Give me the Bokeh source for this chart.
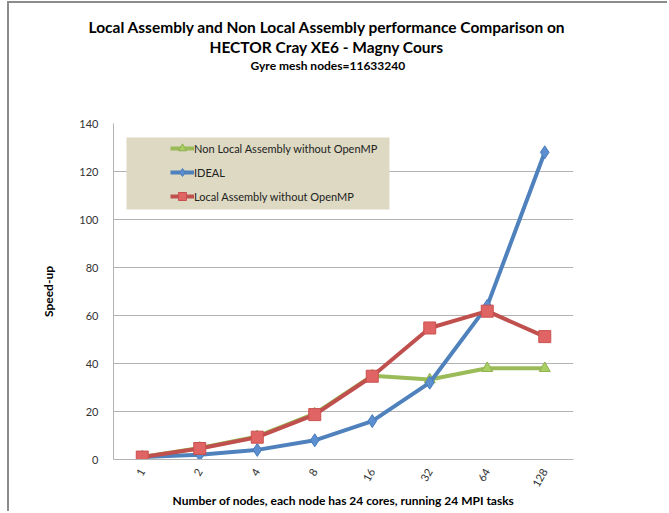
import math
from bokeh.plotting import figure
from bokeh.models import BoxAnnotation, Legend, LegendItem, Title
from bokeh.embed import file_html
from bokeh.resources import INLINE

nodes = ["1", "2", "4", "8", "16", "32", "64", "128"]
ideal = [1, 2, 4, 8, 16, 32, 64, 128]
local_asm = [1.0, 4.6, 9.3, 18.7, 34.7, 54.8, 61.8, 51.2]
nonlocal_asm = [1.0, 4.8, 9.6, 19.1, 34.9, 33.3, 38.0, 38.0]
y_ticks = [0, 20, 40, 60, 80, 100, 120, 140]

title_lines = ["Local Assembly and Non Local Assembly performance Comparison on",
               "HECTOR Cray XE6 - Magny Cours"]
subtitle = "Gyre mesh nodes=11633240"
x_title = "Number of nodes, each node has 24 cores, running 24 MPI tasks"
y_title = "Speed-up"

FONT = "Lato"
GREEN, BLUE, RED = "#9bbb59", "#4f81bd", "#c0504d"

p = figure(width=660, height=510, x_range=nodes, y_range=(0, 140),
           output_backend="svg", toolbar_location=None,
           min_border_left=104, min_border_right=96,
           min_border_top=120, min_border_bottom=54)
p.styles = {"border-left": "2px solid #8c8c8c", "border-top": "2px solid #8c8c8c",
            "margin-left": "7px", "margin-top": "1px"}
p.outline_line_color = None
p.background_fill_color = "white"
p.border_fill_color = "white"

p.xgrid.grid_line_color = None
p.ygrid.grid_line_color = "#b3b3b3"
p.ygrid.grid_line_width = 1
p.yaxis.ticker = y_ticks
p.yaxis.axis_line_color = "#b3b3b3"
p.xaxis.axis_line_color = "#b3b3b3"
for ax in (p.xaxis, p.yaxis):
    ax.major_tick_line_color = None
    ax.minor_tick_line_color = None
    ax.major_label_text_font = FONT
    ax.major_label_text_font_size = "11px"
    ax.major_label_text_color = "#333333"
p.yaxis.major_label_standoff = 9
p.xaxis.major_label_orientation = math.pi / 3
p.xaxis.major_label_standoff = 4

p.xaxis.axis_label = x_title
p.xaxis.axis_label_text_font = FONT
p.xaxis.axis_label_text_font_style = "bold"
p.xaxis.axis_label_text_font_size = "12px"
p.xaxis.axis_label_text_color = "black"
p.xaxis.axis_label_standoff = 0
p.yaxis.axis_label = y_title
p.yaxis.axis_label_text_font = FONT
p.yaxis.axis_label_text_font_style = "bold"
p.yaxis.axis_label_text_font_size = "12px"
p.yaxis.axis_label_text_color = "black"
p.yaxis.axis_label_standoff = 20

# series
g_line = p.line(nodes, nonlocal_asm, line_color=GREEN, line_width=4)
g_mark = p.scatter(nodes, nonlocal_asm, marker="triangle", size=11,
                   fill_color="#a9cf63", line_color="#8fb050")
b_line = p.line(nodes, ideal, line_color=BLUE, line_width=4)
b_mark = p.scatter(nodes, ideal, marker="diamond", size=13,
                   fill_color="#5b8fd0", line_color="#4a7cbc")
r_line = p.line(nodes, local_asm, line_color=RED, line_width=4)
r_mark = p.scatter(nodes, local_asm, marker="square", size=12,
                   fill_color="#e06464", line_color="#c8504e")

# legend background box (frame-relative screen units)
p.add_layout(BoxAnnotation(left=13, right=276, bottom=250, top=322,
                           left_units="screen", right_units="screen",
                           bottom_units="screen", top_units="screen",
                           fill_color="#ddd9c3", fill_alpha=1, line_color=None,
                           level="annotation"))

legend = Legend(items=[
    LegendItem(label="Non Local Assembly without OpenMP", renderers=[g_line, g_mark]),
    LegendItem(label="IDEAL", renderers=[b_line, b_mark]),
    LegendItem(label="Local Assembly without OpenMP", renderers=[r_line, r_mark]),
], location=(57, 253), background_fill_alpha=0, border_line_color=None,
    padding=0, margin=0, spacing=4, glyph_width=24, glyph_height=20,
    label_standoff=0, label_text_font=FONT, label_text_font_size="11px",
    label_text_color="#222222", label_height=20)
p.add_layout(legend, "center")

# titles (added inner-most first); first one is an empty spacer
p.add_layout(Title(text=" ", standoff=48, text_font_size="1px"), "above")
p.add_layout(Title(text=subtitle, align="left", offset=137, standoff=0,
                   text_font=FONT, text_font_style="bold", text_font_size="12px",
                   text_color="black"), "above")
p.add_layout(Title(text=title_lines[1], align="left", offset=96, standoff=0,
                   text_font=FONT, text_font_style="bold", text_font_size="15.5px",
                   text_color="black"), "above")
p.add_layout(Title(text=title_lines[0], align="left", offset=-25, standoff=0,
                   text_font=FONT, text_font_style="bold", text_font_size="15.5px",
                   text_color="black"), "above")

open("out.html", "w").write(file_html(p, INLINE))
